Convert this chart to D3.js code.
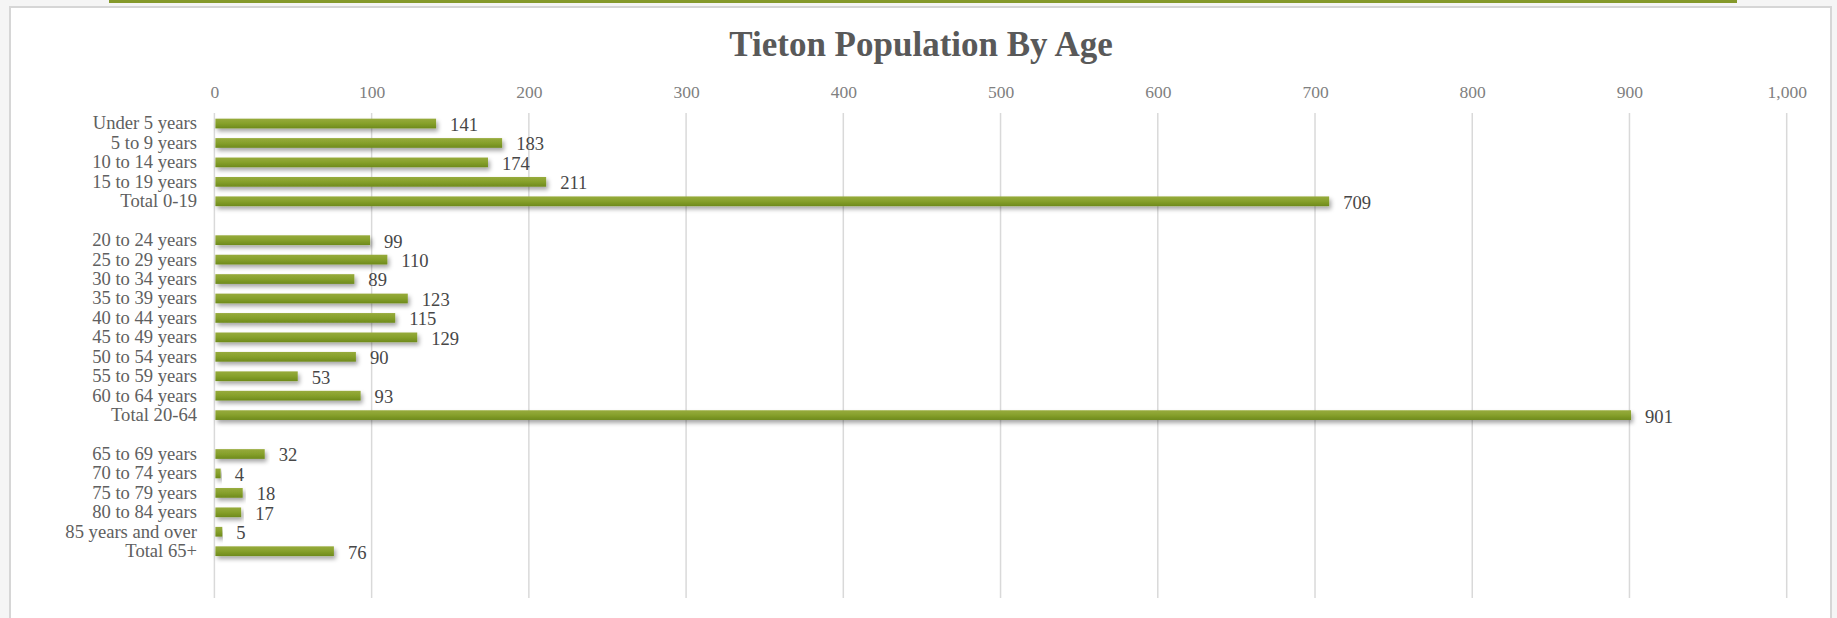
<!DOCTYPE html>
<html>
<head>
<meta charset="utf-8">
<script src="https://cdn.jsdelivr.net/npm/d3@7"></script>
<style>
  html, body { margin: 0; padding: 0; background: #f5f5f5; }
  svg { display: block; }
</style>
</head>
<body>
<svg id="chart" width="1837" height="618"></svg>
<script>
// Age groups (blank entries are spacer rows between the groups)
const categories = [
  "Under 5 years", "5 to 9 years", "10 to 14 years", "15 to 19 years", "Total 0-19",
  "",
  "20 to 24 years", "25 to 29 years", "30 to 34 years", "35 to 39 years", "40 to 44 years",
  "45 to 49 years", "50 to 54 years", "55 to 59 years", "60 to 64 years", "Total 20-64",
  "",
  "65 to 69 years", "70 to 74 years", "75 to 79 years", "80 to 84 years", "85 years and over", "Total 65+",
  "", ""
];
const population = [
  141, 183, 174, 211, 709,
  null,
  99, 110, 89, 123, 115, 129, 90, 53, 93, 901,
  null,
  32, 4, 18, 17, 5, 76,
  null, null
];
const tickValues = [0, 100, 200, 300, 400, 500, 600, 700, 800, 900, 1000];
const titleText = "Tieton Population By Age";

const svg = d3.select("#chart");
const W = 1837, H = 618;

// gradient fill and soft shadow for the bars
const defs = svg.append("defs");
const grad = defs.append("linearGradient")
  .attr("id", "barFill").attr("x1", 0).attr("y1", 0).attr("x2", 0).attr("y2", 1);
grad.append("stop").attr("offset", "0%").attr("stop-color", "#97ab3c");
grad.append("stop").attr("offset", "50%").attr("stop-color", "#86a02b");
grad.append("stop").attr("offset", "100%").attr("stop-color", "#6e8a1c");

const shadow = defs.append("filter").attr("id", "barShadow")
  .attr("x", "-5%").attr("y", "-50%").attr("width", "115%").attr("height", "250%");
shadow.append("feDropShadow")
  .attr("dx", 2).attr("dy", 3).attr("stdDeviation", 2)
  .attr("flood-color", "#000").attr("flood-opacity", 0.35);

// white panel with thin border, green rule along the top
svg.append("rect")
  .attr("x", 10).attr("y", 7).attr("width", 1821).attr("height", H)
  .attr("fill", "#ffffff").attr("stroke", "#d6d6d6").attr("stroke-width", 2);

svg.append("rect")
  .attr("x", 109).attr("y", 0).attr("width", 1628).attr("height", 3)
  .attr("fill", "#85992b");

// scales
const x = d3.scaleLinear().domain([0, 1000]).range([214.4, 1786.7]);
const step = 19.44;
const y = d3.scaleBand()
  .domain(d3.range(categories.length))
  .range([113.8, 113.8 + step * categories.length])
  .paddingInner(0.5).paddingOuter(0.25);

// title
svg.append("text")
  .attr("x", 921).attr("y", 56)
  .attr("text-anchor", "middle")
  .attr("font-family", "Liberation Serif, serif")
  .attr("font-weight", "bold")
  .attr("font-size", 35)
  .attr("fill", "#595959")
  .text(titleText);

// gridlines
svg.append("g").selectAll("line")
  .data(tickValues)
  .join("line")
  .attr("x1", d => x(d)).attr("x2", d => x(d))
  .attr("y1", 113).attr("y2", 598)
  .attr("stroke", "#d9d9d9").attr("stroke-width", 1.5);

// top value axis
const xAxis = d3.axisTop(x)
  .tickValues(tickValues)
  .tickFormat(d3.format(","))
  .tickSize(0).tickPadding(0);
const gx = svg.append("g").attr("transform", "translate(0,98)").call(xAxis);
gx.select(".domain").remove();
gx.selectAll("text")
  .attr("font-family", "Liberation Serif, serif")
  .attr("font-size", 17.5)
  .attr("fill", "#808080");

// category axis
const yAxis = d3.axisLeft(y)
  .tickFormat(i => categories[i])
  .tickSize(0).tickPadding(0);
const gy = svg.append("g").attr("transform", "translate(197,0)").call(yAxis);
gy.select(".domain").remove();
gy.selectAll("text")
  .attr("font-family", "Liberation Serif, serif")
  .attr("font-size", 18.6)
  .attr("fill", "#606060");

const rows = population.map((v, i) => ({ i, v })).filter(d => d.v !== null);

// bars
svg.append("g").selectAll("rect")
  .data(rows)
  .join("rect")
  .attr("x", x(0) + 1)
  .attr("y", d => y(d.i))
  .attr("width", d => x(d.v) - x(0) - 1)
  .attr("height", y.bandwidth())
  .attr("fill", "url(#barFill)")
  .attr("filter", "url(#barShadow)");

// value labels
svg.append("g").selectAll("text")
  .data(rows)
  .join("text")
  .attr("x", d => x(d.v) + 14)
  .attr("y", d => y(d.i) + y.bandwidth() / 2)
  .attr("dy", "0.4em")
  .attr("font-family", "Liberation Serif, serif")
  .attr("font-size", 18.6)
  .attr("fill", "#474747")
  .text(d => d3.format(",")(d.v));
</script>
</body>
</html>
